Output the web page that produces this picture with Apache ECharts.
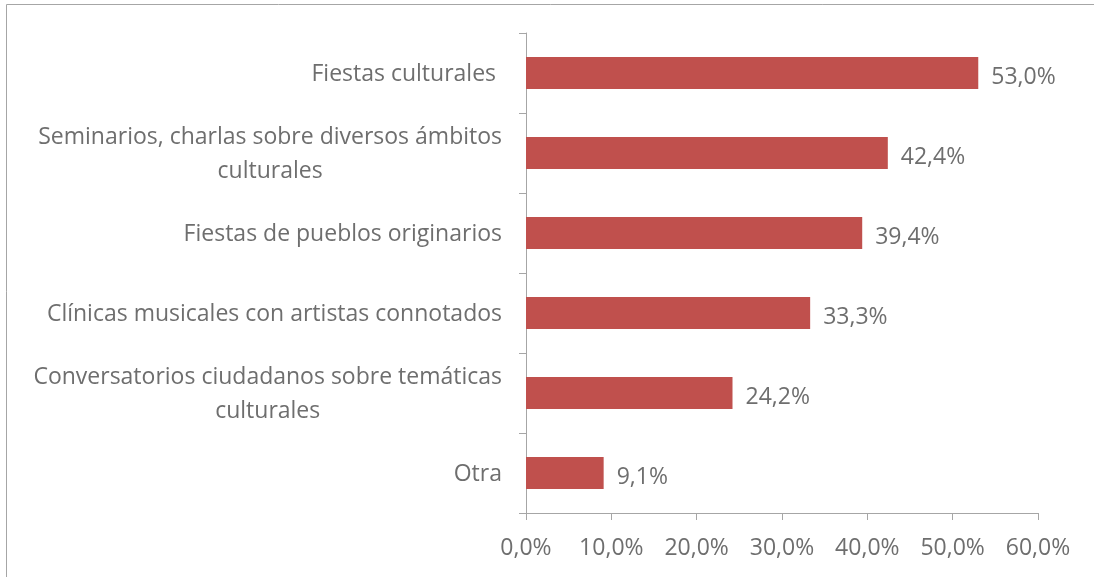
<!DOCTYPE html>
<html>
<head>
<meta charset="utf-8">
<script src="https://cdn.jsdelivr.net/npm/echarts@6/dist/echarts.min.js"></script>
<style>
  html, body { margin: 0; padding: 0; background: #fff; }
  #chart { width: 1094px; height: 577px; }
</style>
</head>
<body>
<div id="chart"></div>
<script>
// categorías (de arriba hacia abajo)
const categories = [
  'Fiestas culturales ',
  'Seminarios, charlas sobre diversos ámbitos\nculturales',
  'Fiestas de pueblos originarios',
  'Clínicas musicales con artistas connotados',
  'Conversatorios ciudadanos sobre temáticas\nculturales',
  'Otra'
];
// porcentajes
const values = [53.0, 42.4, 39.4, 33.3, 24.2, 9.1];
// eje x
const xTicks = [0, 10, 20, 30, 40, 50, 60];

const fmt = (v) => Number(v).toFixed(1).replace('.', ',') + '%';
const textColor = '#6e6e6e';
const axisColor = '#a6a6a6';
const fontFamily = '"Open Sans", sans-serif';
const fontSize = 23;

const chart = echarts.init(document.getElementById('chart'));

const option = {
  animation: false,
  graphic: [{
    type: 'rect',
    shape: { x: 6.5, y: 4.5, width: 1200, height: 700 },
    style: { fill: 'none', stroke: axisColor, lineWidth: 1 }
  }],
  grid: { left: 526, right: 56, top: 33, bottom: 64 },
  xAxis: {
    type: 'value',
    min: xTicks[0],
    max: xTicks[xTicks.length - 1],
    interval: 10,
    splitLine: { show: false },
    axisLine: { show: true, lineStyle: { color: axisColor, width: 1 } },
    axisTick: { show: true, length: 7, lineStyle: { color: axisColor } },
    axisLabel: {
      color: textColor, fontSize: fontSize, fontFamily: fontFamily, margin: 24,
      formatter: (v) => fmt(v)
    }
  },
  yAxis: {
    type: 'category',
    data: categories,
    inverse: true,
    axisLine: { show: true, lineStyle: { color: axisColor, width: 1 } },
    axisTick: { show: true, length: 7, lineStyle: { color: axisColor } },
    axisLabel: {
      color: textColor, fontSize: fontSize, fontFamily: fontFamily, margin: 24,
      formatter: (v) => v.split('\n').map(s => '{c|' + s + '}').join('\n'),
      rich: {
        c: { align: 'center', color: textColor, fontSize: fontSize, fontFamily: fontFamily, lineHeight: 34, padding: [2, 0, 0, 0] }
      }
    }
  },
  series: [{
    type: 'bar',
    data: values,
    barWidth: 32,
    itemStyle: { color: '#C0504D' },
    label: {
      show: true,
      position: 'right',
      distance: 13,
      offset: [0, 4],
      color: textColor,
      fontSize: fontSize,
      fontFamily: fontFamily,
      formatter: (p) => fmt(p.value)
    }
  }]
};

chart.setOption(option);
</script>
</body>
</html>
